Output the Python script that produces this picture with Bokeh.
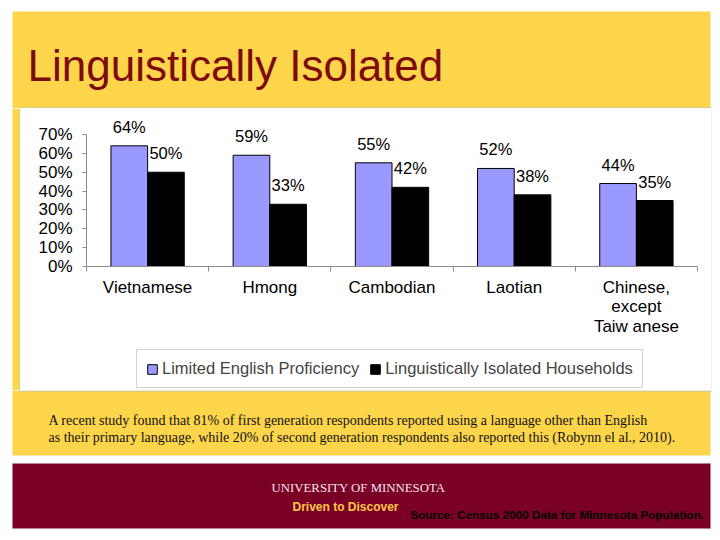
from bokeh.plotting import figure
from bokeh.layouts import column, row
from bokeh.models import (ColumnDataSource, Range1d, FixedTicker, PrintfTickFormatter,
                          LabelSet, Legend, LegendItem)
from bokeh.core.properties import value
from bokeh.embed import file_html
from bokeh.resources import INLINE

# ---- data ----
categories = ["Vietnamese", "Hmong", "Cambodian", "Laotian", "Chinese,\nexcept\nTaiw anese"]
lep = [64, 59, 55, 52, 44]          # Limited English Proficiency (%)
lih = [50, 33, 42, 38, 35]          # Linguistically Isolated Households (%)
y_ticks = [0, 10, 20, 30, 40, 50, 60, 70]
series_names = ["Limited English Proficiency", "Linguistically Isolated Households"]
title_text = "Linguistically Isolated"
para_lines = [
    "A recent study found that 81% of first generation respondents reported using a language other than English",
    "as their primary language, while 20% of second generation respondents also reported this (Robynn el al., 2010).",
]
umn_text = "UNIVERSITY OF MINNESOTA"
tagline = "Driven to Discover"
source_text = "Source: Census 2000 Data for Minnesota Population."

# ---- style ----
W = 712
FONT = "Liberation Sans"
SERIF = "Liberation Serif"
YELLOW = "#FDD54B"
MAROON = "#7A0026"
TITLE_COL = "#7D0B0B"
BLUE = "#9999FF"
AXIS_COL = "#8C8C8C"
BOX_LINE = "#C4C4C4"


def deco_fig(w, h):
    """A figure whose data units equal pixels (y downward), used for slide decoration."""
    f = figure(width=w, height=h, output_backend="svg", toolbar_location=None,
               x_range=Range1d(0, w), y_range=Range1d(h, 0),
               x_axis_type=None, y_axis_type=None, min_border=0,
               border_fill_color="white", background_fill_color="white")
    f.title.visible = False
    f.outline_line_color = None
    f.grid.visible = False
    return f


def txt(f, x, y, s, font, size, color, align="left", style="normal"):
    f.text(x=[x], y=[y], text=[s], text_font=value(font), text_font_size=value(size),
           text_color=color, text_align=align, text_baseline="middle",
           text_font_style=style)


# ---- header band (y 0-108) ----
HH = 108
hdr = deco_fig(W, HH)
hdr.quad(left=[12], right=[710], top=[11], bottom=[HH], fill_color=YELLOW, line_color=None)
hdr.quad(left=[19], right=[W], top=[HH - 1], bottom=[HH], fill_color=BOX_LINE, line_color=None)
txt(hdr, 27, 65, title_text, FONT, "44px", TITLE_COL)

# ---- chart band (y 108-390) ----
BH = 282
LW = 20
lstrip = deco_fig(LW, BH)
lstrip.quad(left=[12], right=[LW], top=[0], bottom=[BH], fill_color=YELLOW, line_color=None)
lstrip.quad(left=[LW - 1], right=[LW], top=[0], bottom=[BH], fill_color=BOX_LINE, line_color=None)

rstrip = deco_fig(1, BH)
rstrip.quad(left=[0], right=[1], top=[0], bottom=[BH], fill_color=BOX_LINE, line_color=None)

CW = W - LW - 1
PH = 238            # chart figure height; the rest of the band holds the legend
LH = BH - PH

xs = list(range(1, len(categories) + 1))
bw = 0.3
src = ColumnDataSource(dict(
    x_lep=[c - bw / 2 for c in xs],
    x_lih=[c + bw / 2 for c in xs],
    lep=lep, lih=lih,
    lep_txt=[f"{v}%" for v in lep],
    lih_txt=[f"{v}%" for v in lih],
))

p = figure(width=CW, height=PH, output_backend="svg", toolbar_location=None,
           x_range=Range1d(0.5, len(categories) + 0.5), y_range=Range1d(0, 78.5),
           min_border_left=66, min_border_right=14, min_border_top=10,
           min_border_bottom=PH - 158, border_fill_color="white",
           background_fill_color="white")
p.title.visible = False
p.outline_line_color = None
p.grid.visible = False

bar_styles = [dict(fill_color=BLUE, line_color="black", line_width=1),
              dict(fill_color="black", line_color="black", line_width=1)]

p.vbar(x="x_lep", top="lep", width=bw, bottom=0, source=src, **bar_styles[0])
p.vbar(x="x_lih", top="lih", width=bw, bottom=0, source=src, **bar_styles[1])

for xcol, ycol, tcol in [("x_lep", "lep", "lep_txt"), ("x_lih", "lih", "lih_txt")]:
    p.add_layout(LabelSet(x=xcol, y=ycol, text=tcol, source=src, text_align="center",
                          text_baseline="alphabetic", y_offset=13,
                          text_font=value(FONT), text_font_size=value("16.5px"),
                          text_color="black"))

xa = p.xaxis[0]
xa.ticker = FixedTicker(ticks=xs, minor_ticks=[c - 0.5 for c in xs] + [xs[-1] + 0.5])
xa.major_label_overrides = {c: name for c, name in zip(xs, categories)}
xa.major_tick_out = 0
xa.major_tick_in = 0
xa.minor_tick_out = 5
xa.minor_tick_in = 0
xa.axis_line_color = AXIS_COL
xa.minor_tick_line_color = AXIS_COL
xa.major_label_text_font = FONT
xa.major_label_text_font_size = "17px"
xa.major_label_text_line_height = 1.05
xa.major_label_text_color = "black"
xa.major_label_standoff = 6

ya = p.yaxis[0]
ya.ticker = FixedTicker(ticks=y_ticks, minor_ticks=[])
ya.formatter = PrintfTickFormatter(format="%d%%")
ya.bounds = (y_ticks[0], y_ticks[-1])
ya.major_tick_out = 4
ya.major_tick_in = 0
ya.minor_tick_out = 0
ya.minor_tick_in = 0
ya.axis_line_color = AXIS_COL
ya.major_tick_line_color = AXIS_COL
ya.major_label_text_font = FONT
ya.major_label_text_font_size = "17px"
ya.major_label_text_color = "black"
ya.major_label_standoff = 10

# ---- legend strip (part of the white chart box) ----
lg = figure(width=CW, height=LH, output_backend="svg", toolbar_location=None,
            x_range=Range1d(0, 1), y_range=Range1d(0, 1),
            x_axis_type=None, y_axis_type=None, min_border=0,
            border_fill_color="white", background_fill_color="white")
lg.title.visible = False
lg.outline_line_color = None
lg.grid.visible = False
# key renderers: one point each, placed outside the visible range, only for legend swatches
k1 = lg.vbar(x=[-5], top=[-5], bottom=[-6], width=bw, **bar_styles[0])
k2 = lg.vbar(x=[-5], top=[-5], bottom=[-6], width=bw, **bar_styles[1])
legend = Legend(items=[LegendItem(label=series_names[0], renderers=[k1]),
                       LegendItem(label=series_names[1], renderers=[k2])],
                orientation="horizontal", location=(50, 2),
                label_text_font=FONT, label_text_font_size="16.5px",
                label_height=15, glyph_height=12, glyph_width=12,
                padding=9, spacing=10, label_standoff=4, margin=0,
                border_line_color="#A8A8A8", border_line_width=1,
                background_fill_color="white", background_fill_alpha=1)
lg.add_layout(legend)

# ---- lower band (y 390-532) ----
FH = 142
ftr = deco_fig(W, FH)
ftr.quad(left=[12], right=[710], top=[0], bottom=[65], fill_color=YELLOW, line_color=None)
ftr.quad(left=[LW - 1], right=[W], top=[0], bottom=[1], fill_color=BOX_LINE, line_color=None)
ftr.quad(left=[12], right=[710], top=[73], bottom=[138], fill_color=MAROON, line_color=None)
txt(ftr, 48, 30, para_lines[0], SERIF, "14px", "#111111")
txt(ftr, 48, 47, para_lines[1], SERIF, "14px", "#111111")
txt(ftr, 358, 97, umn_text, SERIF, "12.8px", "#F3E4E8", align="center")
txt(ftr, 292, 116, tagline, FONT, "12px", "#FFC845", style="bold")
txt(ftr, 410, 124, source_text, FONT, "11.7px", "black", style="bold")

layout = column(hdr, row(lstrip, column(p, lg, spacing=0), rstrip, spacing=0), ftr,
                spacing=0)
open("out.html", "w").write(file_html(layout, INLINE))
